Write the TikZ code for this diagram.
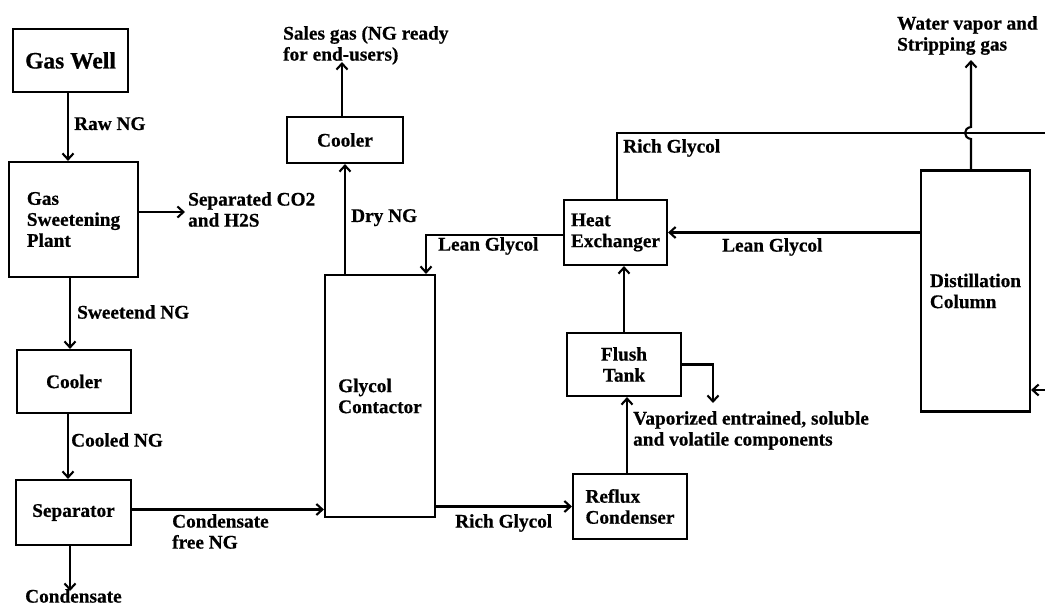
\documentclass[tikz,border=0pt]{standalone}
\usepackage{fontspec}
\setmainfont{Liberation Serif}[BoldFont={Liberation Serif Bold}, BoldFeatures={FakeBold=0.6}]
\usetikzlibrary{arrows.meta}
\newcommand\lblfont{\fontsize{19.3}{21}\selectfont\bfseries}
\tikzset{
  box/.style={draw, line width=2.1pt, inner sep=0pt, align=left, font=\lblfont},
  lbl/.style={inner sep=0pt, anchor=north west, align=left, font=\lblfont},
  arr/.style={line width=2.1pt, -{Straight Barb[length=6pt,width=11pt]}},
  ln/.style={line width=2.1pt},
}
\begin{document}
\begin{tikzpicture}[x=1pt,y=-1pt]
\fill[white] (0,0) rectangle (1045,605);
\useasboundingbox (0,0) rectangle (1045,605);

% boxes
\node[box, minimum width=115pt, minimum height=63pt] (well) at (70.5,60.5) {\fontsize{23.5}{26}\selectfont\bfseries Gas Well};
\node[box, minimum width=129pt, minimum height=115pt] (sweet) at (73.5,219.5) {Gas\\Sweetening\\Plant};
\node[box, minimum width=114pt, minimum height=63pt] (cool1) at (74,381.5) {Cooler};
\node[box, minimum width=115pt, minimum height=65pt] (sep) at (73.5,512.5) {Separator};
\node[box, minimum width=110pt, minimum height=242pt] (cont) at (380,396) {Glycol\\Contactor};
\node[box, minimum width=116pt, minimum height=46pt] (cool2) at (345,140) {Cooler};
\node[box, minimum width=103pt, minimum height=65pt] (hx) at (615.5,232.5) {Heat\\Exchanger};
\node[box, align=center, minimum width=114pt, minimum height=63pt] (flush) at (624,364.5) {Flush\\Tank};
\node[box, minimum width=114pt, minimum height=65pt] (reflux) at (630,506.5) {Reflux\\Condenser};
\node[box, minimum width=109pt, minimum height=241pt] (dist) at (975.5,291) {Distillation\\Column};

% free ends
\coordinate (co2end) at (185,212);
\coordinate (condend) at (70,591);
\coordinate (salesend) at (342,62);
\coordinate (rgend) at (1045,133);
\coordinate (hopA) at (971,139);
\coordinate (hopB) at (971,127);
\coordinate (wvend) at (971,60);
\coordinate (vapend) at (713,403);
\coordinate (rin) at (1045,390);

% labels
\node[lbl] (lraw) at (74,117) {Raw NG};
\node[lbl] (lco2) at (188,192) {Separated CO2\\and H2S};
\node[lbl] (lsweet) at (77,305) {Sweetend NG};
\node[lbl] (lcooled) at (71,433) {Cooled NG};
\node[lbl] (lcfree) at (172,514) {Condensate\\free NG};
\node[lbl] (lcond) at (25,589) {Condensate};
\node[lbl] (lsales) at (283,26) {Sales gas (NG ready\\for end-users)};
\node[lbl] (ldry) at (351,209) {Dry NG};
\node[lbl] (llean1) at (438,237) {Lean Glycol};
\node[lbl] (lrich1) at (623,139) {Rich Glycol};
\node[lbl] (lwater) at (897,16) {Water vapor and\\Stripping gas};
\node[lbl] (llean2) at (722,238) {Lean Glycol};
\node[lbl] (lvap) at (633,411) {Vaporized entrained, soluble\\and volatile components};
\node[lbl] (lrich2) at (455,514) {Rich Glycol};

% connectors
\draw[arr] ([xshift=-2.5]well.south) -- ([xshift=-2.5]well.south |- sweet.north);
\draw[arr] ([yshift=7.5]sweet.east) -- (co2end);
\draw[arr] ([xshift=-3.5]sweet.south) -- ([xshift=-3.5]sweet.south |- cool1.north);
\draw[arr] ([xshift=-6]cool1.south) -- ([xshift=-6]cool1.south |- sep.north);
\draw[arr] ([xshift=-3.5]sep.south) -- (condend);
\draw[arr] ([yshift=3]sep.east) -- ([yshift=3]sep.east -| cont.west);
\draw[arr] (cool2.south |- cont.north) -- (cool2.south);
\draw[arr] ([xshift=-3]cool2.north) -- (salesend);
\draw[arr] ([yshift=-2.5]hx.west) -| ([xshift=46]cont.north);
\draw[ln] ([xshift=1.5]hx.north) |- (rgend);
\draw[arr] (dist.west |- hx.east) -- (hx.east);
\draw[arr] ([xshift=-4.5]dist.north) -- (hopA) .. controls (963,138) and (963,128) .. (hopB) -- (wvend);
\draw[arr] (flush.north) -- (flush.north |- hx.south);
\draw[arr] (flush.east) -| (vapend);
\draw[arr] ([xshift=-3]reflux.north) -- ([xshift=-3]reflux.north |- flush.south);
\draw[arr] (cont.east |- reflux.west) -- (reflux.west);
\draw[arr] (rin) -- (rin -| dist.east);
\end{tikzpicture}
\end{document}
